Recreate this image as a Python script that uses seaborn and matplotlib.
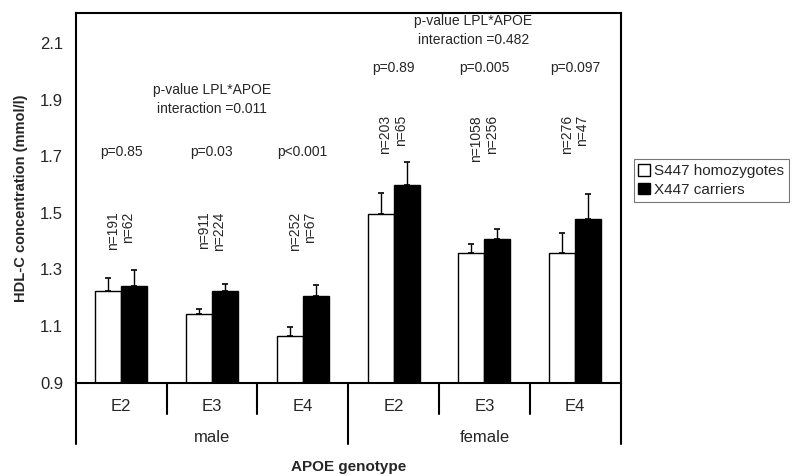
import numpy as np
import pandas as pd
import matplotlib
matplotlib.use('Agg')
import matplotlib.pyplot as plt
import seaborn as sns

groups = ['male E2', 'male E3', 'male E4', 'female E2', 'female E3', 'female E4']
genotypes = ['E2', 'E3', 'E4', 'E2', 'E3', 'E4']
sexes = ['male', 'female']
carriers = ['S447 homozygotes', 'X447 carriers']

s447_mean = [1.224, 1.143, 1.063, 1.496, 1.357, 1.357]
s447_err = [0.046, 0.017, 0.032, 0.075, 0.032, 0.073]
x447_mean = [1.242, 1.225, 1.206, 1.598, 1.408, 1.477]
x447_err = [0.057, 0.022, 0.040, 0.082, 0.035, 0.089]

s447_n = ['n=191', 'n=911', 'n=252', 'n=203', 'n=1058', 'n=276']
x447_n = ['n=62', 'n=224', 'n=67', 'n=65', 'n=256', 'n=47']
p_labels = ['p=0.85', 'p=0.03', 'p<0.001', 'p=0.89', 'p=0.005', 'p=0.097']
interaction = ['p-value LPL*APOE\ninteraction =0.011',
               'p-value LPL*APOE\ninteraction =0.482']

df = pd.DataFrame({
    'group': groups * 2,
    'carrier': [carriers[0]] * 6 + [carriers[1]] * 6,
    'hdl': s447_mean + x447_mean,
})

sns.set_style('white')
plt.rcParams['font.family'] = ['Liberation Sans', 'DejaVu Sans']

fig = plt.figure(figsize=(7.94, 4.76), dpi=100)
ax = fig.add_axes([0.0953, 0.1964, 0.6864, 0.7756])

sns.barplot(data=df, x='group', y='hdl', hue='carrier', order=groups,
            hue_order=carriers, palette=['white', 'black'], edgecolor='black',
            linewidth=1, width=0.574, errorbar=None, ax=ax)

# one-sided error bars (upper only)
for cont, errs in zip(ax.containers, [s447_err, x447_err]):
    xs = [b.get_x() + b.get_width() / 2 for b in cont]
    hs = [b.get_height() for b in cont]
    ax.errorbar(xs, hs, yerr=[np.zeros(len(errs)), errs], fmt='none',
                ecolor='black', elinewidth=1, capsize=2, capthick=1.2)

ax.set_ylim(0.9, 2.205)
ax.set_xlim(-0.5, 5.5)
ax.set_yticks(np.arange(0.9, 2.15, 0.2))
ax.set_yticklabels([f'{v:.1f}' for v in np.arange(0.9, 2.15, 0.2)])
ax.tick_params(axis='y', length=0, pad=9, labelsize=12)
ax.set_xticks([])
ax.set_xlabel('')
for sp in ax.spines.values():
    sp.set_visible(True)
    sp.set_color('black')
    sp.set_linewidth(1.5)
ax.set_ylabel('HDL-C concentration (mmol/l)', fontsize=10.5, fontweight='bold',
              labelpad=9)

# annotations
for i in range(6):
    ytop_n = 1.505 if i < 3 else 1.845
    ax.text(i - 0.09, ytop_n, s447_n[i], rotation=90, ha='center', va='top',
            fontsize=10)
    ax.text(i + 0.08, ytop_n, x447_n[i], rotation=90, ha='center', va='top',
            fontsize=10)
    yp = 1.716 if i < 3 else 2.01
    ax.text(i, yp, p_labels[i], ha='center', va='center', fontsize=10)

ax.text(1.0, 1.90, interaction[0], ha='center', va='center', fontsize=10,
        linespacing=1.45)
ax.text(3.88, 2.145, interaction[1], ha='center', va='center', fontsize=10,
        linespacing=1.45)

# category table below the axis
trans = ax.get_xaxis_transform()
for xb in [-0.5, 0.5, 1.5, 2.5, 3.5, 4.5, 5.5]:
    y_end = -0.1666 if xb in (-0.5, 2.5, 5.5) else -0.0853
    ax.plot([xb, xb], [0, y_end], color='black', lw=1.5, transform=trans,
            clip_on=False)
for i, g in enumerate(genotypes):
    ax.text(i, -0.0655, g, ha='center', va='center', fontsize=12,
            transform=trans)
for j, s in enumerate(sexes):
    ax.text(1 + 3 * j, -0.150, s, ha='center', va='center', fontsize=12,
            transform=trans)
ax.text(2.5, -0.228, 'APOE genotype', ha='center', va='center', fontsize=11,
        fontweight='bold', transform=trans)

leg = ax.legend(loc='upper left', bbox_to_anchor=(0.798, 0.665),
                bbox_transform=fig.transFigure, fontsize=11, frameon=True,
                fancybox=False, edgecolor='#555555', handlelength=0.75,
                handleheight=0.8, handletextpad=0.3, borderpad=0.3,
                labelspacing=0.3, borderaxespad=0)
leg.get_frame().set_linewidth(0.8)

fig.savefig('out.png', dpi=100)
